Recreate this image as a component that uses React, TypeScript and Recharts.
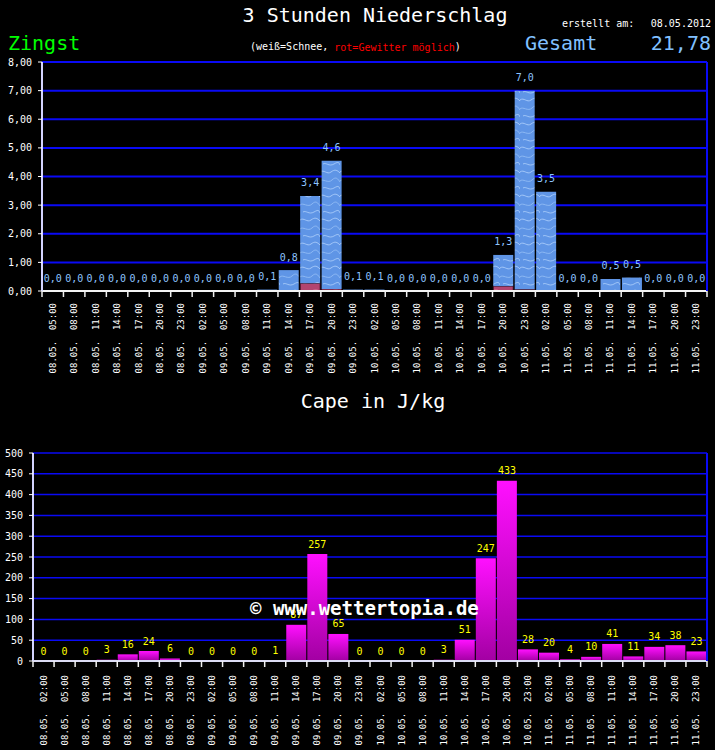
import React from 'react';
import { ComposedChart, Bar, Line, XAxis, YAxis, CartesianGrid, LabelList } from 'recharts';

const MONO = '"DejaVu Sans Mono", "Liberation Mono", monospace';

// ---------- 3-hour precipitation ----------
const precipTimes = [
  '08.05. 05:00', '08.05. 08:00', '08.05. 11:00', '08.05. 14:00', '08.05. 17:00', '08.05. 20:00', '08.05. 23:00',
  '09.05. 02:00', '09.05. 05:00', '09.05. 08:00', '09.05. 11:00', '09.05. 14:00', '09.05. 17:00', '09.05. 20:00', '09.05. 23:00',
  '10.05. 02:00', '10.05. 05:00', '10.05. 08:00', '10.05. 11:00', '10.05. 14:00', '10.05. 17:00', '10.05. 20:00', '10.05. 23:00',
  '11.05. 02:00', '11.05. 05:00', '11.05. 08:00', '11.05. 11:00', '11.05. 14:00', '11.05. 17:00', '11.05. 20:00', '11.05. 23:00',
];
// bar heights (mm)
const precipTotal = [
  0, 0, 0, 0, 0, 0, 0,
  0, 0, 0, 0.05, 0.73, 3.32, 4.55, 0.05,
  0.05, 0, 0, 0, 0, 0, 1.26, 7.0,
  3.47, 0, 0, 0.42, 0.47, 0, 0, 0,
];
// thunderstorm part (red)
const precipThunder = [
  0, 0, 0, 0, 0, 0, 0,
  0, 0, 0, 0, 0, 0.27, 0.07, 0,
  0, 0, 0, 0, 0, 0, 0.17, 0.06,
  0, 0, 0, 0, 0, 0, 0, 0,
];
// printed values
const precipLabels = [
  0, 0, 0, 0, 0, 0, 0,
  0, 0, 0, 0.1, 0.8, 3.4, 4.6, 0.1,
  0.1, 0, 0, 0, 0, 0, 1.3, 7.0,
  3.5, 0, 0, 0.5, 0.5, 0, 0, 0,
];
const precipTicks = [0, 1, 2, 3, 4, 5, 6, 7, 8];

// ---------- CAPE ----------
const capeTimes = [
  '08.05. 02:00', '08.05. 05:00', '08.05. 08:00', '08.05. 11:00', '08.05. 14:00', '08.05. 17:00', '08.05. 20:00', '08.05. 23:00',
  '09.05. 02:00', '09.05. 05:00', '09.05. 08:00', '09.05. 11:00', '09.05. 14:00', '09.05. 17:00', '09.05. 20:00', '09.05. 23:00',
  '10.05. 02:00', '10.05. 05:00', '10.05. 08:00', '10.05. 11:00', '10.05. 14:00', '10.05. 17:00', '10.05. 20:00', '10.05. 23:00',
  '11.05. 02:00', '11.05. 05:00', '11.05. 08:00', '11.05. 11:00', '11.05. 14:00', '11.05. 17:00', '11.05. 20:00', '11.05. 23:00',
];
const capeValues = [
  0, 0, 0, 3, 16, 24, 6, 0,
  0, 0, 0, 1, 87, 257, 65, 0,
  0, 0, 0, 3, 51, 247, 433, 28,
  20, 4, 10, 41, 11, 34, 38, 23,
];
const capeTicks = [0, 50, 100, 150, 200, 250, 300, 350, 400, 450, 500];

const precipData = precipTimes.map((t, i) => ({
  time: t,
  thunder: precipThunder[i],
  rain: +(precipTotal[i] - precipThunder[i]).toFixed(3),
  total: precipTotal[i],
  label: precipLabels[i],
}));
const capeData = capeTimes.map((t, i) => ({ time: t, cape: capeValues[i] }));

// layout constants
const TOP_PLOT_W = 665;
const TOP_BASE = 291;
const BOT_PLOT_W = 674;
const BOT_BASE = 281; // inside bottom chart svg

const GRID_BLUE = '#0a0af5';

const makeXTick = (count: number, plotW: number, offset: number) => (props: any) => {
  const { x, y, payload, index } = props;
  const bw = plotW / count;
  const txt = String(payload.value).replace(' ', '\u00a0\u00a0');
  return (
    <g>
      <line x1={x - bw / 2} y1={y} x2={x - bw / 2} y2={y + 6} stroke="#f0f0f0" strokeWidth={1.5} />
      {index === count - 1 && (
        <line x1={x + bw / 2} y1={y} x2={x + bw / 2} y2={y + 6} stroke="#f0f0f0" strokeWidth={1.5} />
      )}
      <text
        transform={`translate(${x},${y + offset}) rotate(-90)`}
        textAnchor="end"
        dominantBaseline="central"
        fontFamily={MONO}
        fontSize={9}
        fill="#ffffff"
        style={{ whiteSpace: 'pre' }}
      >
        {txt}
      </text>
    </g>
  );
};

const TopLabel = (props: any) => {
  const { x, y, value } = props;
  const cy = Math.min(y - 13, TOP_BASE - 10);
  return (
    <text x={x} y={cy} textAnchor="middle" dominantBaseline="central" fontFamily={MONO} fontSize={10} fill="#8ec4ff">
      {Number(value).toFixed(1).replace('.', ',')}
    </text>
  );
};

const BotLabel = (props: any) => {
  const { x, y, value } = props;
  const cy = Math.min(y - 10, BOT_BASE - 9);
  return (
    <text x={x} y={cy} textAnchor="middle" dominantBaseline="central" fontFamily={MONO} fontSize={10} fill="#ffff00">
      {String(value)}
    </text>
  );
};

export default function App() {
  return (
    <div style={{ position: 'absolute', left: 0, top: 0, width: 715, height: 750, background: '#000', overflow: 'hidden' }}>
      <div style={{ position: 'absolute', left: 0, top: 0 }}>
        <ComposedChart width={715} height={380} data={precipData} margin={{ top: 62, right: 7, left: 0, bottom: 0 }} barCategoryGap={0.75}>
          <defs>
            <pattern id="waterTex" patternUnits="userSpaceOnUse" width="20" height="24">
              <rect width="20" height="24" fill="#5f95e6" />
              <path d="M0 4 C4 1 7 7 11 4 S17 2 20 5" fill="none" stroke="#a4c8fa" strokeWidth="1" />
              <path d="M0 13 C3 10 8 16 12 12 S18 11 20 14" fill="none" stroke="#8cb8f4" strokeWidth="1" />
              <path d="M3 20 C6 18 9 23 14 20 S19 19 20 21" fill="none" stroke="#b0d0fb" strokeWidth="0.8" />
            </pattern>
            <pattern id="stormTex" patternUnits="userSpaceOnUse" width="20" height="12">
              <rect width="20" height="12" fill="#b2446f" />
              <path d="M0 3 C4 1 8 6 12 3 S18 2 20 4" fill="none" stroke="#d06a90" strokeWidth="0.8" />
            </pattern>
          </defs>
          <CartesianGrid horizontal vertical={false} stroke={GRID_BLUE} strokeWidth={2} />
          <XAxis
            dataKey="time"
            interval={0}
            height={89}
            tickSize={0}
            tickMargin={0}
            tickLine={false}
            axisLine={{ stroke: '#f4f4f4', strokeWidth: 2 }}
            tick={makeXTick(precipTimes.length, TOP_PLOT_W, 12)}
          />
          <YAxis
            width={42}
            domain={[0, 8]}
            ticks={precipTicks}
            interval={0}
            tickSize={4}
            tickMargin={6}
            axisLine={{ stroke: '#d4d4ff', strokeWidth: 2 }}
            tickLine={{ stroke: '#ffffff' }}
            tick={{ fill: '#ffffff', fontFamily: MONO, fontSize: 10 }}
            tickFormatter={(v: number) => v.toFixed(2).replace('.', ',')}
          />
          <YAxis yAxisId="r" orientation="right" width={1} tick={false} tickLine={false} axisLine={{ stroke: GRID_BLUE, strokeWidth: 2 }} />
          <Bar dataKey="thunder" stackId="p" fill="url(#stormTex)" stroke="#300818" strokeWidth={0.8} isAnimationActive={false} />
          <Bar dataKey="rain" stackId="p" fill="url(#waterTex)" isAnimationActive={false} />
          <Line dataKey="total" stroke="none" dot={false} activeDot={false} isAnimationActive={false}>
            <LabelList dataKey="label" content={TopLabel} />
          </Line>
        </ComposedChart>
      </div>

      <div style={{ position: 'absolute', left: 0, top: 380 }}>
        <ComposedChart width={715} height={370} data={capeData} margin={{ top: 73, right: 7, left: 0, bottom: 0 }} barCategoryGap={0.5}>
          <defs>
            <linearGradient id="capeGrad" x1="0" y1="0" x2="0" y2="1">
              <stop offset="0%" stopColor="#ff10ff" />
              <stop offset="100%" stopColor="#a200a2" />
            </linearGradient>
          </defs>
          <CartesianGrid horizontal vertical={false} stroke={GRID_BLUE} strokeWidth={1.5} />
          <XAxis
            dataKey="time"
            interval={0}
            height={89}
            tickSize={0}
            tickMargin={0}
            tickLine={false}
            axisLine={{ stroke: '#dcdcf4', strokeWidth: 2 }}
            tick={makeXTick(capeTimes.length, BOT_PLOT_W, 14)}
          />
          <YAxis
            width={33}
            domain={[0, 500]}
            ticks={capeTicks}
            interval={0}
            tickSize={4}
            tickMargin={6}
            axisLine={{ stroke: '#d4d4ff', strokeWidth: 2 }}
            tickLine={{ stroke: '#ffffff' }}
            tick={{ fill: '#ffffff', fontFamily: MONO, fontSize: 10 }}
          />
          <YAxis yAxisId="r" orientation="right" width={1} tick={false} tickLine={false} axisLine={{ stroke: GRID_BLUE, strokeWidth: 2 }} />
          <Bar dataKey="cape" fill="url(#capeGrad)" isAnimationActive={false} />
          <Line dataKey="cape" stroke="none" dot={false} activeDot={false} isAnimationActive={false}>
            <LabelList dataKey="cape" content={BotLabel} />
          </Line>
        </ComposedChart>
      </div>

      <svg width={715} height={750} style={{ position: 'absolute', left: 0, top: 0, pointerEvents: 'none' }}>
        <text x={375} y={15} textAnchor="middle" dominantBaseline="central" fontFamily={MONO} fontSize={20} fill="#ffffff">
          3 Stunden Niederschlag
        </text>
        <text x={562} y={23} dominantBaseline="central" fontFamily={MONO} fontSize={10} fill="#ffffff">erstellt am:</text>
        <text x={711} y={23} textAnchor="end" dominantBaseline="central" fontFamily={MONO} fontSize={10} fill="#ffffff">08.05.2012</text>
        <text x={8} y={43} dominantBaseline="central" fontFamily={MONO} fontSize={20} fill="#00ff00">Zingst</text>
        <text x={250} y={46.5} dominantBaseline="central" fontFamily={MONO} fontSize={10} fill="#ffffff">
          (weiß=Schnee, <tspan fill="#ff0000">rot=Gewitter möglich</tspan>)
        </text>
        <text x={525} y={43} dominantBaseline="central" fontFamily={MONO} fontSize={20} fill="#80c0ff">Gesamt</text>
        <text x={711} y={43} textAnchor="end" dominantBaseline="central" fontFamily={MONO} fontSize={20} fill="#80c0ff">21,78</text>
        <text x={373} y={401} textAnchor="middle" dominantBaseline="central" fontFamily={MONO} fontSize={20} fill="#ffffff">
          Cape in J/kg
        </text>
        <text x={250} y={608} dominantBaseline="central" fontFamily={MONO} fontSize={19} fontWeight="bold" fill="#ffffff">
          © www.wettertopia.de
        </text>
      </svg>
    </div>
  );
}
